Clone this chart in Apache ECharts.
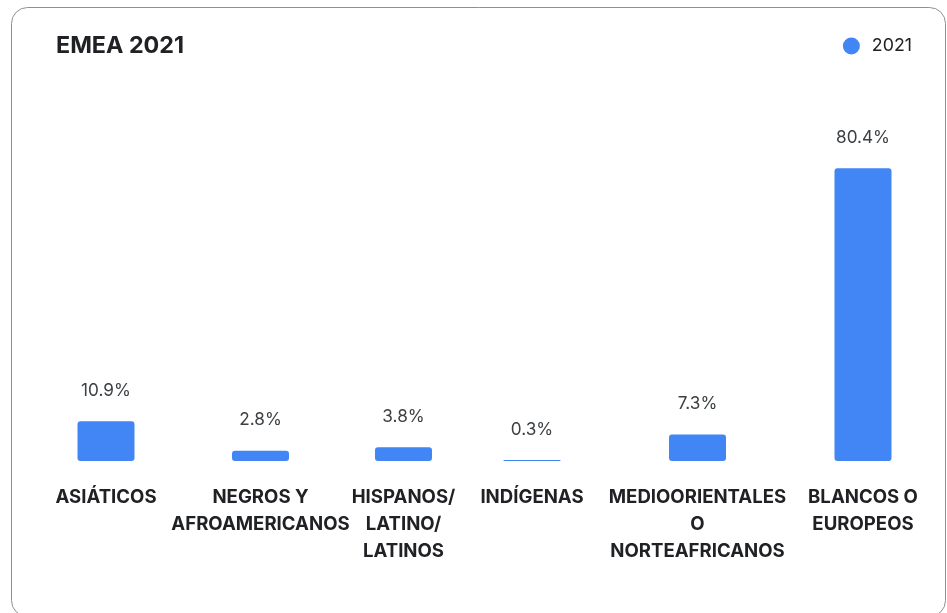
<!DOCTYPE html>
<html>
<head>
<meta charset="utf-8">
<script src="https://cdn.jsdelivr.net/npm/echarts@6/dist/echarts.min.js"></script>
<style>
  html, body { margin: 0; padding: 0; background: #ffffff; }
  #chart { width: 947px; height: 613px; }
</style>
</head>
<body>
<div id="chart"></div>
<script>
// Share of representation by group, EMEA 2021
const categories = [
  'ASIÁTICOS',
  'NEGROS Y\nAFROAMERICANOS',
  'HISPANOS/\nLATINO/\nLATINOS',
  'INDÍGENAS',
  'MEDIOORIENTALES\nO\nNORTEAFRICANOS',
  'BLANCOS O\nEUROPEOS'
];
const values = [10.9, 2.8, 3.8, 0.3, 7.3, 80.4];
const seriesName = '2021';
const chartTitle = 'EMEA 2021';

// Column centres (px) of each group; columns follow the width of their labels
const columnCenters = [106, 260.5, 403.5, 532, 697.5, 863];
const columnWidth = 140;

const FONT = 'Inter, Roboto, "Noto Sans", sans-serif';
const BAR_COLOR = '#4285F4';

const grids = [], xAxes = [], yAxes = [], series = [];
categories.forEach((cat, i) => {
  grids.push({
    left: columnCenters[i] - columnWidth / 2,
    width: columnWidth,
    top: 97,
    bottom: 152,
    containLabel: false
  });
  xAxes.push({
    type: 'category',
    gridIndex: i,
    data: [cat],
    axisLine: { show: false },
    axisTick: { show: false },
    axisLabel: {
      interval: 0,
      margin: 23,
      fontFamily: FONT,
      fontSize: 18.6,
      fontWeight: 'bold',
      color: '#202124',
      lineHeight: 27,
      align: 'center'
    }
  });
  yAxes.push({
    type: 'value',
    gridIndex: i,
    min: 0,
    max: 100,
    show: false,
    splitLine: { show: false }
  });
  series.push({
    name: seriesName,
    type: 'bar',
    xAxisIndex: i,
    yAxisIndex: i,
    barWidth: 57,
    data: [values[i]],
    itemStyle: { color: BAR_COLOR, borderRadius: 3 },
    label: {
      show: true,
      position: 'top',
      distance: 22,
      fontFamily: FONT,
      fontSize: 17.2,
      color: '#3c4043',
      formatter: p => p.value.toFixed(1) + '%'
    },
    emphasis: { disabled: true },
    animation: false
  });
});

const chart = echarts.init(document.getElementById('chart'), null, { renderer: 'canvas' });
chart.setOption({
  backgroundColor: '#ffffff',
  animation: false,
  graphic: [{
    type: 'rect',
    z: -10,
    shape: { x: 11.5, y: 7.5, width: 934, height: 609, r: 16 },
    style: { fill: '#ffffff', stroke: '#8f8f8f', lineWidth: 1 }
  }],
  title: {
    text: chartTitle,
    left: 56,
    top: 34,
    padding: 0,
    textStyle: { fontFamily: FONT, fontSize: 23.3, fontWeight: 'bold', color: '#202124' }
  },
  legend: {
    data: [seriesName],
    right: 35,
    top: 37,
    padding: 0,
    icon: 'circle',
    itemWidth: 17,
    itemHeight: 17,
    selectedMode: false,
    textStyle: { fontFamily: FONT, fontSize: 17.8, color: '#202124', padding: [0, 0, 0, 7] }
  },
  grid: grids,
  xAxis: xAxes,
  yAxis: yAxes,
  series: series
});
</script>
</body>
</html>
